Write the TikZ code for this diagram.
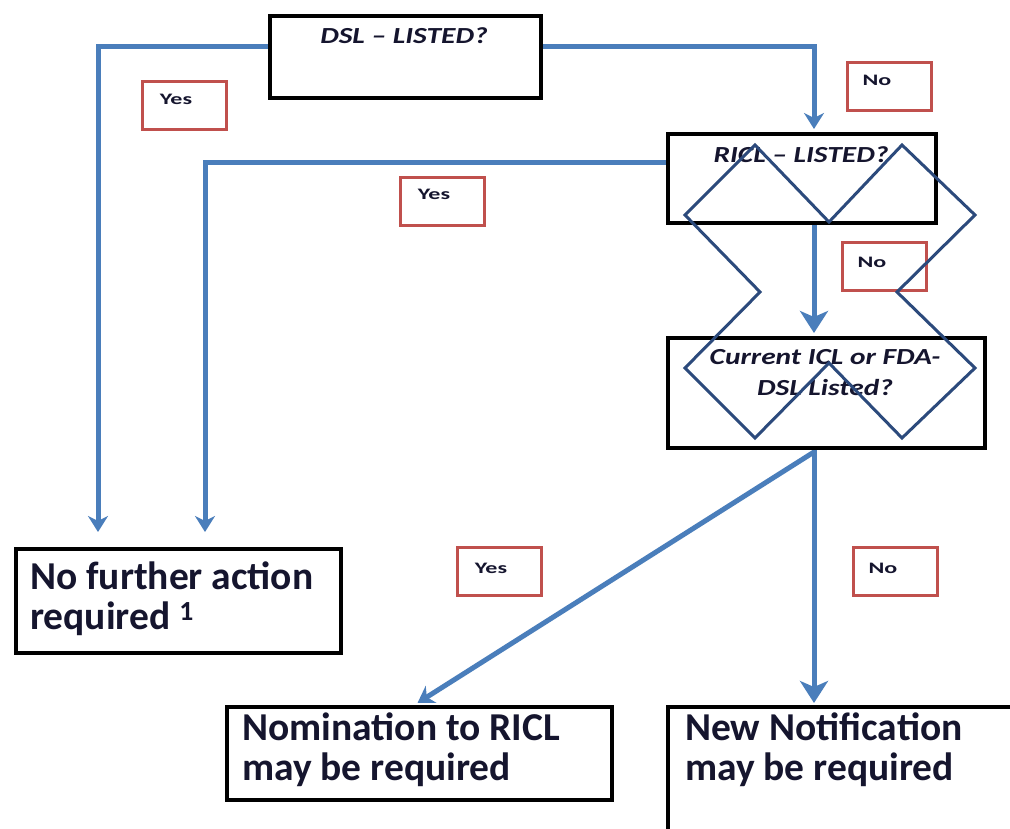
\documentclass[tikz,border=0pt]{standalone}
\usepackage{fontspec}
\usepackage{graphicx}
\setmainfont{Carlito}
\usetikzlibrary{arrows.meta,backgrounds}
\definecolor{flow}{HTML}{4A7EBB}
\definecolor{lab}{HTML}{C0504D}
\definecolor{navy}{HTML}{2C4A7C}
\definecolor{ink}{HTML}{15152E}
\newcommand{\wq}[1]{\scalebox{1.28}[1]{#1}}
\newcommand{\wt}[1]{\scalebox{1.5}[1]{#1}}
\begin{document}
\begin{tikzpicture}[x=1pt,y=-1pt,
  box/.style={draw=black, line width=4pt, inner sep=0pt, anchor=north west},
  tag/.style={draw=lab, line width=3pt, minimum width=84pt, minimum height=48pt, inner sep=0pt, anchor=north west},
  tagtext/.style={text=ink, font=\bfseries\fontsize{16}{16}\selectfont, inner sep=0pt},
  qtext/.style={text=ink, font=\bfseries\itshape\fontsize{23}{31}\selectfont, inner sep=0pt, align=center},
  btext/.style={text=ink, font=\bfseries\fontsize{39.5}{40}\selectfont, inner sep=0pt, align=left, anchor=north west},
  arr/.style={draw=flow, line width=5pt, -{Stealth[length=16pt,width=20pt,inset=5pt]}},
  bigarr/.style={draw=flow, line width=5pt, -{Stealth[length=22pt,width=28pt,inset=6pt]}},
  zig/.style={draw=navy, line width=3pt, line join=miter}]
\useasboundingbox (0,0) rectangle (1010,829);
\clip (0,0) rectangle (1010,829);
% boxes
\node[box, minimum width=271pt, minimum height=82pt] (dsl) at (268,14) {};
\node[box, minimum width=268pt, minimum height=89pt] (ricl) at (666,132) {};
\node[box, minimum width=317pt, minimum height=110pt] (cur) at (666,336) {};
\node[box, minimum width=325pt, minimum height=104pt] (nfa) at (14,547) {};
\node[box, minimum width=385pt, minimum height=93pt] (nom) at (225,705) {};
\node[box, minimum width=380pt, minimum height=160pt] (nn) at (666,705) {};
% connectors
\coordinate (t1) at (98,532);
\coordinate (t2) at (205,532);
\begin{scope}[on background layer]
\fill[white] (0,0) rectangle (1010,829);
\draw[arr] ([yshift=10pt]dsl.west) -| (t1);
\draw[arr] ([yshift=10pt]dsl.east) -| ([xshift=12pt,yshift=3pt]ricl.north);
\draw[arr] ([yshift=15.5pt]ricl.west) -| (t2);
\draw[bigarr] ([xshift=12pt]ricl.south) -- ([xshift=-12.5pt,yshift=3pt]cur.north);
\draw[bigarr] ([xshift=-12.5pt]cur.south) -- ([xshift=-12.5pt,yshift=2pt]cur.south |- nn.north);
\draw[arr] ([xshift=-12.5pt,yshift=-2pt]cur.south) -- ([xshift=-2pt,yshift=2pt]nom.north);
\end{scope}
% texts
\node[qtext] (dslt) at (404,36) {\wq{DSL – LISTED?}};
\node[qtext] (riclt) at (801,155) {\wq{RICL – LISTED?}};
\node[qtext] (curt) at (825,373) {\wq{Current ICL or FDA-}\\\wq{DSL Listed?}};
\node[btext] (nfat) at (30,562) {No further action\\required \textsuperscript{1}};
\node[btext] (nomt) at (242,713) {Nomination to RICL\\may be required};
\node[btext] (nnt) at (685,713) {New Notification\\may be required};
% tags
\node[tag] (y1) at (141,80) {};
\node[tag] (n1) at (846,61) {};
\node[tag] (y2) at (399,176) {};
\node[tag] (n2) at (841,241) {};
\node[tag] (y3) at (456,546) {};
\node[tag] (n3) at (852,546) {};
\node[tagtext] (y1t) at (176,99) {\wt{Yes}};
\node[tagtext] (n1t) at (877,80) {\wt{No}};
\node[tagtext] (y2t) at (434,194) {\wt{Yes}};
\node[tagtext] (n2t) at (872,262) {\wt{No}};
\node[tagtext] (y3t) at (491,568) {\wt{Yes}};
\node[tagtext] (n3t) at (883,568) {\wt{No}};
% crossing outline
\draw[zig] (685,215) -- (755,145) -- (829,222) -- (902,145) -- (975,215) -- (897,292) -- (975,368) -- (902,438) -- (829,363) -- (755,438) -- (685,368) -- (760,292) -- cycle;
\end{tikzpicture}
\end{document}
